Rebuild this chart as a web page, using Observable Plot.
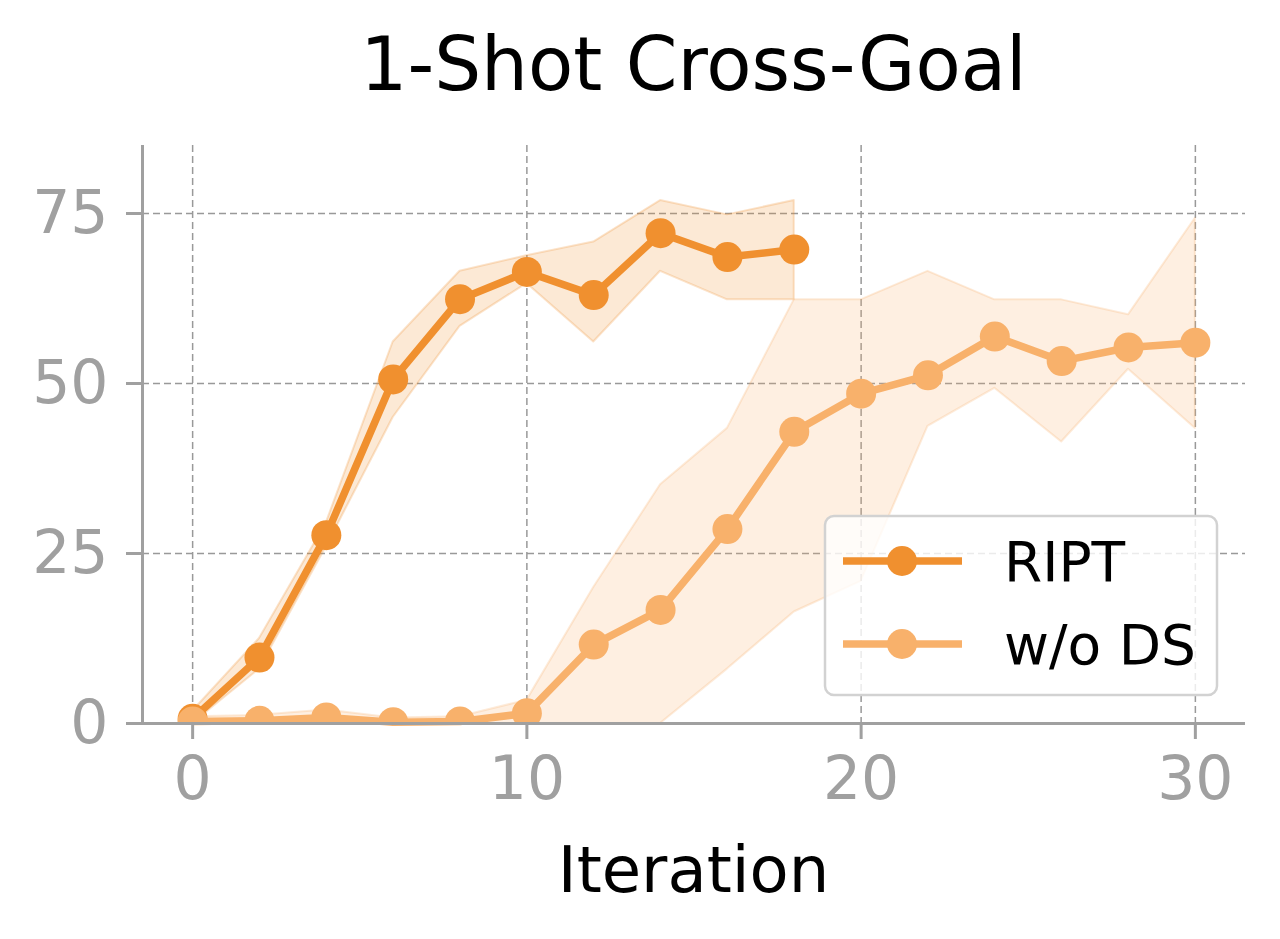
<!DOCTYPE html>
<html>
<head>
<meta charset="utf-8">
<script src="https://cdn.jsdelivr.net/npm/d3@7"></script>
<script src="https://cdn.jsdelivr.net/npm/@observablehq/plot@0.6"></script>
<style>
  html, body { margin: 0; padding: 0; background: #ffffff; }
  #chart svg { display: block; font-family: "DejaVu Sans", sans-serif; }
</style>
</head>
<body>
<div id="chart"></div>
<script>
// Success rate (%) over training iterations, mean with min/max band
const ripIter  = [0, 2, 4, 6, 8, 10, 12, 14, 16, 18];
const riptMean = [0.7, 9.7, 27.7, 50.6, 62.4, 66.4, 63.0, 72.1, 68.6, 69.7];
const riptLow  = [0.0, 8.0, 26.0, 45.0, 58.4, 64.7, 56.1, 66.5, 62.3, 62.3];
const riptHigh = [1.8, 12.5, 29.5, 56.1, 66.5, 68.8, 70.8, 76.9, 74.8, 76.9];

const dsIter = [0, 2, 4, 6, 8, 10, 12, 14, 16, 18, 20, 22, 24, 26, 28, 30];
const dsMean = [0.3, 0.4, 0.9, 0.2, 0.3, 1.5, 11.6, 16.7, 28.6, 42.9, 48.5, 51.2, 56.9, 53.3, 55.3, 56.0];
const dsLow  = [0.0, 0.0, 0.0, 0.0, 0.0, 0.0, 0.0, 0.0, 8.0, 16.4, 20.9, 43.7, 49.3, 41.4, 52.1, 43.4];
const dsHigh = [1.0, 1.2, 2.0, 0.8, 1.0, 3.4, 20.0, 35.1, 43.4, 62.3, 62.3, 66.5, 62.3, 62.3, 60.1, 74.3];

const seriesNames  = ["RIPT", "w/o DS"];
const seriesColors = ["#F0902F", "#F8B16B"];

const xTicks = [0, 10, 20, 30];
const yTicks = [0, 25, 50, 75];
const xDomain = [-1.5, 31.5];
const yDomain = [0, 85];

const titleText  = "1-Shot Cross-Goal";
const xLabelText = "Iteration";

const toRows = (xs, mean, lo, hi, name) =>
  xs.map((x, i) => ({x, mean: mean[i], lo: lo[i], hi: hi[i], series: name}));

const ript = toRows(ripIter, riptMean, riptLow, riptHigh, seriesNames[0]);
const ds   = toRows(dsIter, dsMean, dsLow, dsHigh, seriesNames[1]);

const W = 1280, H = 939;
const axisGray = "#a0a0a0";
const gridStyle = {stroke: "#999999", strokeOpacity: 1, strokeWidth: 1.5, strokeDasharray: "7,4"};

function seriesMarks(rows, color) {
  return [
    Plot.areaY(rows, {x: "x", y1: "lo", y2: "hi", fill: color, fillOpacity: 0.2,
      stroke: color, strokeOpacity: 0.25, strokeWidth: 2, curve: "linear"}),
    Plot.line(rows, {x: "x", y: "mean", stroke: color, strokeWidth: 7.5, curve: "linear"}),
    Plot.dot(rows, {x: "x", y: "mean", r: 15, fill: color, stroke: "none", clip: true})
  ];
}

const plot = Plot.plot({
  width: W,
  height: H,
  marginLeft: 142,
  marginRight: 35,
  marginTop: 145,
  marginBottom: 216,
  style: {fontFamily: "DejaVu Sans, sans-serif", background: "#ffffff"},
  x: {domain: xDomain},
  y: {domain: yDomain},
  marks: [
    Plot.gridX(xTicks, gridStyle),
    Plot.gridY(yTicks.filter(d => d > 0), gridStyle),
    ...seriesMarks(ript, seriesColors[0]),
    ...seriesMarks(ds, seriesColors[1]),
    // left and bottom spines
    Plot.ruleX([xDomain[0]], {stroke: axisGray, strokeWidth: 3}),
    Plot.ruleY([yDomain[0]], {stroke: axisGray, strokeWidth: 3}),
    Plot.axisX(xTicks, {tickSize: 16, tickPadding: 17, fontSize: 60, color: axisGray,
      strokeWidth: 3, label: null}),
    Plot.axisY(yTicks, {tickSize: 16, tickPadding: 18, fontSize: 60, color: axisGray,
      strokeWidth: 3, label: null})
  ]
});

document.getElementById("chart").appendChild(plot);

// Title, axis label and legend drawn on top of the plot's SVG
const svg = d3.select(plot);
const frameCenter = (142 + (W - 35)) / 2;

svg.append("text")
  .attr("x", frameCenter).attr("y", 90)
  .attr("text-anchor", "middle")
  .attr("font-size", 74).attr("fill", "#000")
  .text(titleText);

svg.append("text")
  .attr("x", frameCenter).attr("y", 892)
  .attr("text-anchor", "middle")
  .attr("font-size", 64).attr("fill", "#000")
  .text(xLabelText);

const legend = svg.append("g");
legend.append("rect")
  .attr("x", 825).attr("y", 516).attr("width", 392).attr("height", 179)
  .attr("rx", 9).attr("ry", 9)
  .attr("fill", "#ffffff").attr("fill-opacity", 0.8)
  .attr("stroke", "#d2d2d2").attr("stroke-width", 2.5);

seriesNames.forEach((name, i) => {
  const cy = 561 + i * 83;
  legend.append("line")
    .attr("x1", 843).attr("x2", 962).attr("y1", cy).attr("y2", cy)
    .attr("stroke", seriesColors[i]).attr("stroke-width", 7.5);
  legend.append("circle")
    .attr("cx", 902).attr("cy", cy).attr("r", 15)
    .attr("fill", seriesColors[i]);
  legend.append("text")
    .attr("x", 1004).attr("y", cy + 20)
    .attr("text-anchor", "start")
    .attr("font-size", 55).attr("fill", "#000")
    .text(name);
});
</script>
</body>
</html>
